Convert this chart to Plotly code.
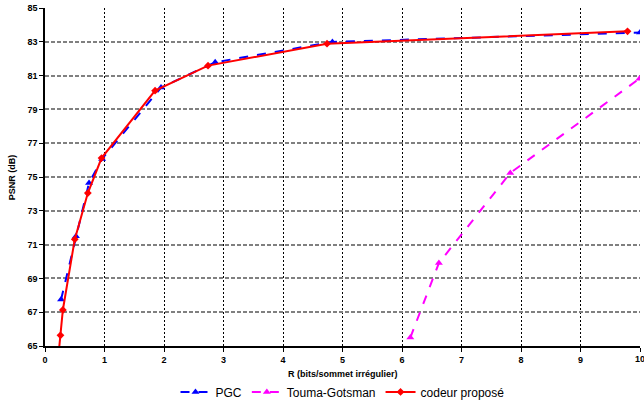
import plotly.graph_objects as go

pgc_x = [0.27, 0.52, 0.74, 0.96, 1.95, 2.86, 4.83, 10.0]
pgc_y = [67.75, 71.5, 74.65, 76.07, 80.29, 81.79, 82.99, 83.55]

tg_x = [6.14, 6.62, 7.82, 9.99]
tg_y = [65.5, 69.91, 75.24, 80.82]

cp_x = [0.2, 0.26, 0.30, 0.50, 0.72, 0.95, 1.85, 2.74, 4.74, 9.79]
cp_y = [63.5, 65.63, 67.13, 71.31, 74.05, 76.12, 80.11, 81.59, 82.89, 83.62]

x_ticks = list(range(0, 10))
last_x_tick = 10
y_ticks = list(range(65, 86, 2))

fig = go.Figure()
fig.add_trace(go.Scatter(x=pgc_x, y=pgc_y, name="PGC", mode="lines+markers",
                         line=dict(color="#0000FF", width=2, dash="dash"),
                         marker=dict(symbol="triangle-up", size=7, color="#0000FF")))
fig.add_trace(go.Scatter(x=tg_x, y=tg_y, name="Touma-Gotsman", mode="lines+markers",
                         line=dict(color="#FF00FF", width=2, dash="dash"),
                         marker=dict(symbol="triangle-up", size=7, color="#FF00FF")))
fig.add_trace(go.Scatter(x=cp_x, y=cp_y, name="codeur proposé", mode="lines+markers",
                         line=dict(color="#FF0000", width=2),
                         marker=dict(symbol="diamond", size=6, color="#FF0000")))

font_family = "Liberation Sans, Arial, sans-serif"
fig.update_layout(
    width=644, height=403,
    margin=dict(l=45, r=4, t=8, b=57, autoexpand=False),
    plot_bgcolor="white", paper_bgcolor="white",
    font=dict(family=font_family, color="black"),
    showlegend=True,
    legend=dict(orientation="h", x=0.5, xanchor="center", y=-0.136, yanchor="middle",
                font=dict(size=12, family=font_family), itemwidth=30,
                tracegroupgap=0, bgcolor="rgba(0,0,0,0)"),
    xaxis=dict(range=[0, 10], tickvals=x_ticks + [last_x_tick],
               ticktext=[f"<b>{v}</b>" for v in x_ticks] + [""],
               tickfont=dict(size=9), showgrid=True, gridcolor="black", griddash="2px,2px",
               gridwidth=1, showline=True, linecolor="black", linewidth=1.5,
               ticks="outside", ticklen=4, tickcolor="black", zeroline=False,
               automargin=False),
    yaxis=dict(range=[65, 85], tickvals=y_ticks, ticktext=[f"<b>{v}</b>" for v in y_ticks],
               tickfont=dict(size=9), showgrid=True, gridcolor="#808080", griddash="4px,2px",
               gridwidth=1.5, showline=True, linecolor="black", linewidth=1.5,
               ticks="outside", ticklen=4, tickcolor="black", zeroline=False,
               automargin=False),
    annotations=[
        dict(text="<b>R (bits/sommet irrégulier)</b>", xref="paper", yref="paper",
             x=0.5, y=-0.083, xanchor="center", yanchor="middle", showarrow=False,
             font=dict(size=9)),
        dict(text="<b>PSNR (dB)</b>", xref="paper", yref="paper", textangle=-90,
             x=-0.055, y=0.5, xanchor="center", yanchor="middle", showarrow=False,
             font=dict(size=9)),
        dict(text=f"<b>{last_x_tick}</b>", xref="x", yref="paper",
             x=last_x_tick, y=-0.038, xanchor="center", yanchor="middle",
             showarrow=False, font=dict(size=9)),
    ],
)

fig.write_html("out.html", post_script="document.body.style.margin='0';",
               config={"displayModeBar": False})
